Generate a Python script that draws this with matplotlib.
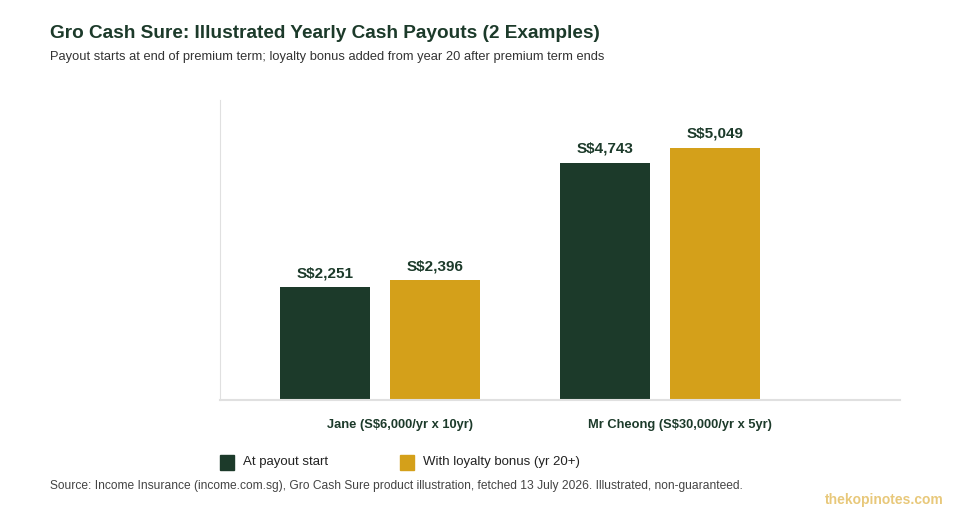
import numpy as np
import matplotlib.pyplot as plt
from matplotlib.patches import Rectangle

plt.rcParams['font.family'] = ['Liberation Sans', 'DejaVu Sans']

# data
people = ['Jane (S$6,000/yr x 10yr)', 'Mr Cheong (S$30,000/yr x 5yr)']
at_start = [2251, 4743]
with_bonus = [2396, 5049]
series_names = ['At payout start', 'With loyalty bonus (yr 20+)']

green = '#1c3a2a'
gold = '#d4a01a'

fig = plt.figure(figsize=(9.6, 5.2), dpi=100)
ax = fig.add_axes([220/960, 1 - 400/520, 680/960, 300/520])

x = np.arange(len(people))
w = 0.3214
off = 0.196
b1 = ax.bar(x - off, at_start, width=w, color=green)
b2 = ax.bar(x + off, with_bonus, width=w, color=gold)

for bars, vals in [(b1, at_start), (b2, with_bonus)]:
    for r, v in zip(bars, vals):
        ax.text(r.get_x() + r.get_width()/2, v + 140, f'S${v:,}',
                ha='center', va='bottom', fontsize=11, fontweight='bold', color=green)

ax.set_xlim(-0.5714, 1.857)
ax.set_ylim(0, 6000)
ax.set_yticks([])
ax.set_xticks(x + 0.0714)
ax.set_xticklabels(people, fontsize=9.25, fontweight='bold', color=green)
ax.tick_params(axis='x', length=0, pad=14)
for s in ['top', 'right']:
    ax.spines[s].set_visible(False)
ax.spines['left'].set_color('#e0e0e0')
ax.spines['bottom'].set_color('#e0e0e0')
ax.spines['bottom'].set_linewidth(1.5)

# titles
fig.text(50/960, 1 - 33/520, 'Gro Cash Sure: Illustrated Yearly Cash Payouts (2 Examples)',
         fontsize=13.7, fontweight='bold', color=green, va='center')
fig.text(50/960, 1 - 57/520,
         'Payout starts at end of premium term; loyalty bonus added from year 20 after premium term ends',
         fontsize=9.3, color='#333333', va='center')

# legend
for lx, col, name in [(220, green, series_names[0]), (400, gold, series_names[1])]:
    fig.patches.append(Rectangle((lx/960, 1 - 470/520), 14/960, 15/520,
                                 transform=fig.transFigure, color=col))
    fig.text((lx + 23)/960, 1 - 462/520, name, fontsize=9.5, color='#222222', va='center')

fig.text(50/960, 1 - 486/520,
         'Source: Income Insurance (income.com.sg), Gro Cash Sure product illustration, fetched 13 July 2026. Illustrated, non-guaranteed.',
         fontsize=8.65, color='#444444', va='center')
fig.text(944/960, 1 - 500/520, 'thekopinotes.com', fontsize=10, fontweight='bold',
         color='#e8c87a', ha='right', va='center')

fig.savefig('out.png', dpi=100)
